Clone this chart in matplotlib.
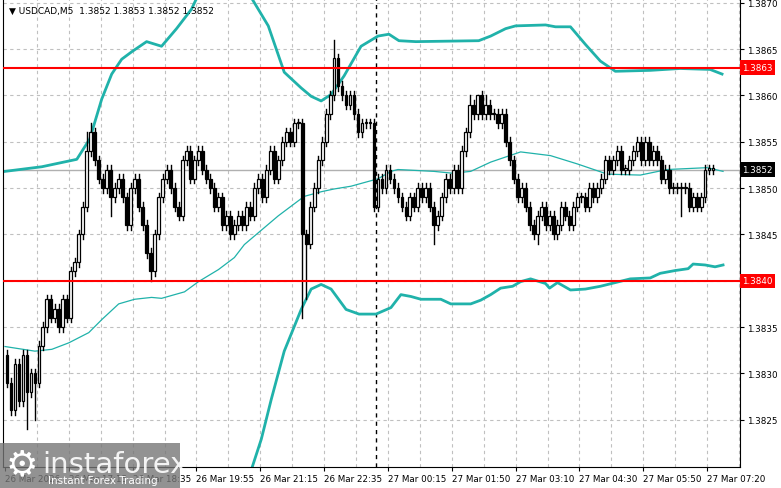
import numpy as np
import matplotlib.pyplot as plt
from matplotlib.patches import Rectangle

# USDCAD M5 closes, one per bar
closes = [
    1.3829, 1.3826, 1.3831, 1.3827, 1.3832, 1.3828, 1.3830, 1.3829, 1.3833, 1.3835,
    1.3838, 1.3836, 1.3837, 1.3835, 1.3838, 1.3836, 1.3841, 1.3842, 1.3845, 1.3848,
    1.3854, 1.3856, 1.3853, 1.3851, 1.3850, 1.3852, 1.3849, 1.3850, 1.3851, 1.3849,
    1.3846, 1.3850, 1.3851, 1.3848, 1.3846, 1.3843, 1.3841, 1.3845, 1.3849, 1.3851,
    1.3852, 1.3850, 1.3848, 1.3847, 1.3853, 1.3854, 1.3851, 1.3853, 1.3854, 1.3852,
    1.3851, 1.3850, 1.3848, 1.3849, 1.3846, 1.3847, 1.3845, 1.3846, 1.3847, 1.3846,
    1.3848, 1.3847, 1.3850, 1.3851, 1.3849, 1.3852, 1.3854, 1.3851, 1.3853, 1.3855,
    1.3856, 1.3855, 1.3857, 1.3857, 1.3845, 1.3844, 1.3848, 1.3850, 1.3853, 1.3855,
    1.3858, 1.3860, 1.3864, 1.3861, 1.3860, 1.3859, 1.3860, 1.3858, 1.3856, 1.3857,
    1.3857, 1.3857, 1.3848, 1.3851, 1.3850, 1.3852, 1.3851, 1.3850, 1.3849, 1.3848,
    1.3847, 1.3849, 1.3848, 1.3850, 1.3849, 1.3850, 1.3848, 1.3846, 1.3847, 1.3849,
    1.3851, 1.3850, 1.3852, 1.3850, 1.3854, 1.3856, 1.3859, 1.3858, 1.3860, 1.3858,
    1.3859, 1.3858, 1.3858, 1.3857, 1.3858, 1.3855, 1.3853, 1.3851, 1.3849, 1.3850,
    1.3848, 1.3846, 1.3845, 1.3847, 1.3848, 1.3846, 1.3847, 1.3845, 1.3846, 1.3848,
    1.3847, 1.3846, 1.3848, 1.3849, 1.3849, 1.3848, 1.3850, 1.3849, 1.3850, 1.3851,
    1.3853, 1.3852, 1.3853, 1.3854, 1.3852, 1.3852, 1.3853, 1.3854, 1.3855, 1.3853,
    1.3855, 1.3853, 1.3854, 1.3853, 1.3851, 1.3852, 1.3850, 1.3850, 1.3850, 1.3850,
    1.3850, 1.3848, 1.3849, 1.3848, 1.3849, 1.3852, 1.3852, 1.3852,
]
first_open = 1.3832
# bars whose wicks reach further than usual
special_high = {20: 1.3856, 21: 1.3857, 82: 1.3866, 116: 1.3860, 118: 1.3860, 120: 1.3860}
special_low = {5: 1.3824, 7: 1.3825, 36: 1.3840, 74: 1.3836, 75: 1.3838, 107: 1.3844,
               133: 1.3844, 169: 1.3847, 26: 1.3847}

# Bollinger bands (bar position, price)
upper_x = [-0.5, 8.75, 17.5, 20.75, 23.75, 26.25, 28.75, 31.25, 35, 38.75, 42.5, 46.25, 48,
           60.75, 65.5, 69.5, 73.75, 76.25, 78.75, 81.25, 84.5, 88.75, 93, 95.75, 98.25,
           102.5, 118.25, 121.25, 125, 127.5, 135, 137.5, 141.25, 145, 148.75, 152.5,
           161.25, 168.75, 176.25, 179.25]
upper_y = [1.38518, 1.38523, 1.38531, 1.38553, 1.38596, 1.38623, 1.38639, 1.38647, 1.38658,
           1.38653, 1.38672, 1.38693, 1.38709, 1.38709, 1.38675, 1.38625, 1.38608, 1.38599,
           1.38594, 1.38601, 1.38621, 1.38653, 1.38664, 1.38666, 1.38659, 1.38658,
           1.38659, 1.38664, 1.38672, 1.38675, 1.38676, 1.38674, 1.38674, 1.38655, 1.38637,
           1.38626, 1.38627, 1.38629, 1.38628, 1.38623]
lower_x = [61.25, 63.75, 66.25, 69.5, 73.75, 76.25, 78.75, 81.25, 85, 88.25, 92.5, 96.25,
           98.75, 101.25, 103.75, 108.75, 111.25, 116.25, 118.75, 121.25, 123.75, 126.75,
           128.75, 131.25, 135, 136, 138, 141.25, 145, 148.75, 152.5, 156.25, 161.25,
           163.75, 167.5, 170.75, 172, 175, 177.5, 179.5]
lower_y = [1.38196, 1.38229, 1.38272, 1.38324, 1.38369, 1.38391, 1.38396, 1.38391, 1.38369,
           1.38364, 1.38364, 1.38371, 1.38385, 1.38383, 1.38380, 1.38380, 1.38375, 1.38375,
           1.38379, 1.38385, 1.38392, 1.38394, 1.38399, 1.38402, 1.38397, 1.38392, 1.38398,
           1.38390, 1.38391, 1.38394, 1.38398, 1.38402, 1.38403, 1.38408, 1.38411, 1.38413,
           1.38418, 1.38417, 1.38415, 1.38417]
mid_x = [-0.5, 7, 11.25, 15.5, 20.5, 23.75, 28, 32, 36.25, 38.75, 44.5, 48, 53, 57, 59.5,
         68, 74.5, 78.75, 82, 86.25, 93, 96.25, 98, 107, 111.75, 116.25, 121.25, 128.75,
         136.25, 143, 150.5, 158.75, 165.5, 175.5, 179.5]
mid_y = [1.38329, 1.38324, 1.38326, 1.38333, 1.38344, 1.38358, 1.38375, 1.38380, 1.38382,
         1.38381, 1.38388, 1.38399, 1.38412, 1.38425, 1.38439, 1.38470, 1.38491, 1.38496,
         1.38499, 1.38502, 1.38510, 1.38518, 1.38520, 1.38518, 1.38516, 1.38518, 1.38528,
         1.38539, 1.38535, 1.38526, 1.38515, 1.38514, 1.38520, 1.38522, 1.38518]

resistance = 1.3863
support = 1.3840
last_price = 1.3852
time_labels = ["26 Mar 2026", "26 Mar 17:15", "26 Mar 18:35", "26 Mar 19:55", "26 Mar 21:15",
               "26 Mar 22:35", "27 Mar 00:15", "27 Mar 01:50", "27 Mar 03:10", "27 Mar 04:30",
               "27 Mar 05:50", "27 Mar 07:20"]
price_ticks = [1.3825, 1.3830, 1.3835, 1.3840, 1.3845, 1.3850, 1.3855, 1.3860, 1.3865, 1.3870]

teal = "#20b2aa"
fig = plt.figure(figsize=(7.81, 4.89), dpi=100)
ax = fig.add_axes([3 / 781, 21 / 489, 737 / 781, 468 / 489])
ax.set_xlim(-1.0, 183.75)
ax.set_ylim(1.38199, 1.38704)

# grid
for p in price_ticks:
    ax.axhline(p, color="#c0c0c0", ls=(0, (3, 3)), lw=0.8, zorder=0)
for g in np.arange(7.5, 184, 8):
    ax.axvline(g, color="#c0c0c0", ls=(0, (3, 3)), lw=0.8, zorder=0)

ax.axhline(last_price, color="#b0b0b0", lw=1, zorder=1)
ax.axvline(92.5, color="black", ls=(0, (3, 3)), lw=1, zorder=1)

# candles
opens = [first_open] + closes[:-1]
for i, (o, c) in enumerate(zip(opens, closes)):
    hi = special_high.get(i, max(o, c) + 0.00005)
    lo = special_low.get(i, min(o, c) - 0.00005)
    ax.plot([i, i], [lo, hi], color="black", lw=1, zorder=3)
    b = min(o, c)
    h = max(abs(c - o), 0.000012)
    ax.add_patch(Rectangle((i - 0.35, b), 0.7, h, facecolor="white" if c >= o else "black",
                           edgecolor="black", lw=0.9, zorder=4))

ax.plot(upper_x[:13], upper_y[:13], color=teal, lw=2, zorder=2)
ax.plot(upper_x[13:], upper_y[13:], color=teal, lw=2, zorder=2)
ax.plot(lower_x, lower_y, color=teal, lw=2, zorder=2)
ax.plot(mid_x, mid_y, color=teal, lw=0.9, zorder=2)

ax.axhline(resistance, color="red", lw=1.5, zorder=5)
ax.axhline(support, color="red", lw=1.5, zorder=5)

ax.yaxis.tick_right()
ax.set_yticks(price_ticks)
# the support box sits where the 1.3840 label would be
ax.set_yticklabels(["" if p == support else f"{p:.4f}" for p in price_ticks])
ax.set_xticks(np.arange(len(time_labels)) * 16 - 0.5)
ax.set_xticklabels(time_labels, ha="left")
ax.tick_params(labelsize=6.3, length=3, pad=2)
ax.spines["top"].set_visible(False)

for val, fc in [(resistance, "red"), (support, "red"), (last_price, "black")]:
    ax.text(1.003, val, f"{val:.4f}", transform=ax.get_yaxis_transform(), fontsize=6.3,
            color="white", va="center", ha="left",
            bbox=dict(boxstyle="square,pad=0.3", fc=fc, ec="none"), zorder=6)

ax.text(0.008, 0.985, "\u25BC USDCAD,M5  1.3852 1.3853 1.3852 1.3852", transform=ax.transAxes,
        fontsize=6.5, va="top", ha="left", zorder=7)

# watermark
fig.patches.append(Rectangle((0, 0), 180 / 781, 45 / 489, transform=fig.transFigure,
                             facecolor="#777777", alpha=0.8, zorder=10))
fig.text(42 / 781, 24 / 489, "instaforex", fontsize=21, color="white", alpha=0.9,
         va="center", ha="left", zorder=11)
fig.text(48 / 781, 8 / 489, "Instant Forex Trading", fontsize=7.5, color="white",
         va="center", ha="left", zorder=11)
fig.text(22 / 781, 24 / 489, "\u2699", fontsize=26, color="white", va="center", ha="center", zorder=11)

fig.savefig("out.png", dpi=100)
